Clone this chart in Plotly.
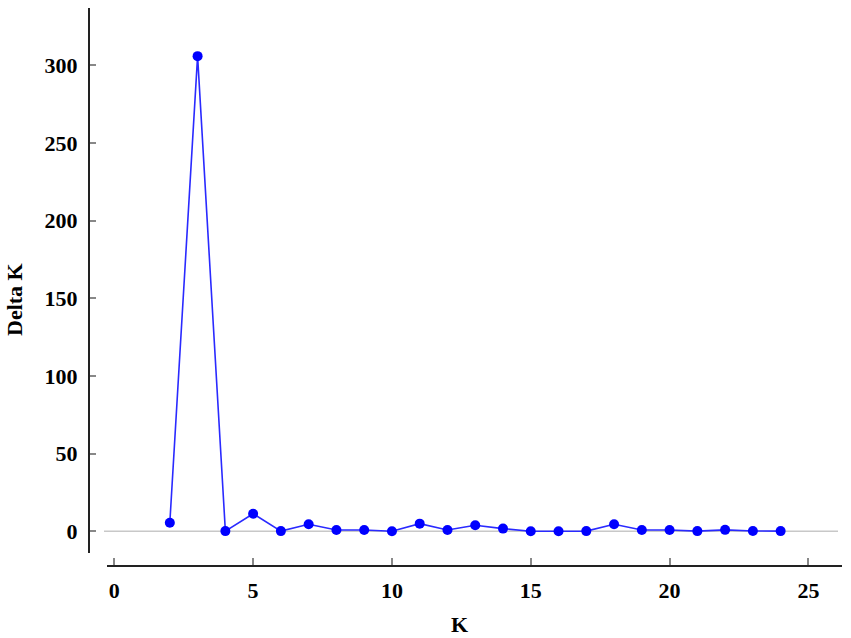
import plotly.graph_objects as go

k_values = [2, 3, 4, 5, 6, 7, 8, 9, 10, 11, 12, 13, 14, 15, 16, 17, 18, 19, 20, 21, 22, 23, 24]
delta_k = [5.5, 306, 0.1, 11.3, 0.1, 4.5, 0.8, 0.8, 0.0, 4.9, 0.8, 3.9, 1.7, 0.0, 0.0, 0.1, 4.5, 0.8, 0.8, 0.1, 0.9, 0.2, 0.1]
x_ticks = [0, 5, 10, 15, 20, 25]
y_ticks = [0, 50, 100, 150, 200, 250, 300]

W, H = 851, 638
ml, mr, mt, mb = 89, 9, 8, 72
pw = W - ml - mr
ph = H - mt - mb

font_family = "Liberation Serif, Times New Roman, serif"

fig = go.Figure()
fig.add_trace(go.Scatter(
    x=k_values, y=delta_k, mode="lines+markers",
    line=dict(color="#2a2aff", width=1.6),
    marker=dict(color="#0000ff", size=10),
    showlegend=False,
))

fig.add_shape(type="line", xref="paper", yref="y",
              x0=(104 - ml) / pw, x1=(838 - ml) / pw, y0=0, y1=0,
              line=dict(color="#c8c8c8", width=1.5), layer="below")

fig.add_annotation(text="<b>Delta K</b>", xref="paper", yref="paper",
                   x=(14 - ml) / pw, y=(H - mb - 300) / ph, textangle=-90,
                   showarrow=False, xanchor="center", yanchor="middle",
                   font=dict(family=font_family, size=22, color="black"))
fig.add_annotation(text="<b>K</b>", xref="paper", yref="paper",
                   x=(459 - ml) / pw, y=(H - mb - 624) / ph,
                   showarrow=False, xanchor="center", yanchor="middle",
                   font=dict(family=font_family, size=22, color="black"))

fig.update_layout(
    width=W, height=H,
    margin=dict(l=ml, r=mr, t=mt, b=mb, autoexpand=False),
    plot_bgcolor="white", paper_bgcolor="white",
    font=dict(family=font_family, color="black"),
    xaxis=dict(
        domain=[(107 - ml) / pw, 1],
        anchor="free", position=0, automargin=False,
        range=[-0.263, 26.21],
        tickvals=x_ticks, ticktext=[str(v) for v in x_ticks],
        showgrid=False, zeroline=False,
        showline=True, linecolor="#222222", linewidth=2,
        ticks="inside", ticklen=7, tickcolor="#888888", tickwidth=1.5,
        tickfont=dict(family=font_family, size=22, color="black", weight="bold"),
        ticklabelstandoff=5,
    ),
    yaxis=dict(
        domain=[(566 - 553) / ph, 1],
        anchor="free", position=0, automargin=False,
        range=[-14.0, 337.0],
        tickvals=y_ticks, ticktext=[str(v) for v in y_ticks],
        showgrid=False, zeroline=False,
        showline=True, linecolor="#222222", linewidth=2,
        ticks="inside", ticklen=6, tickcolor="#888888", tickwidth=1.5,
        tickfont=dict(family=font_family, size=22, color="black", weight="bold"),
        ticklabelstandoff=6,
    ),
)

fig.write_html("out.html", config={"displayModeBar": False},
               post_script="document.body.style.margin='0';document.body.style.overflow='hidden';")
